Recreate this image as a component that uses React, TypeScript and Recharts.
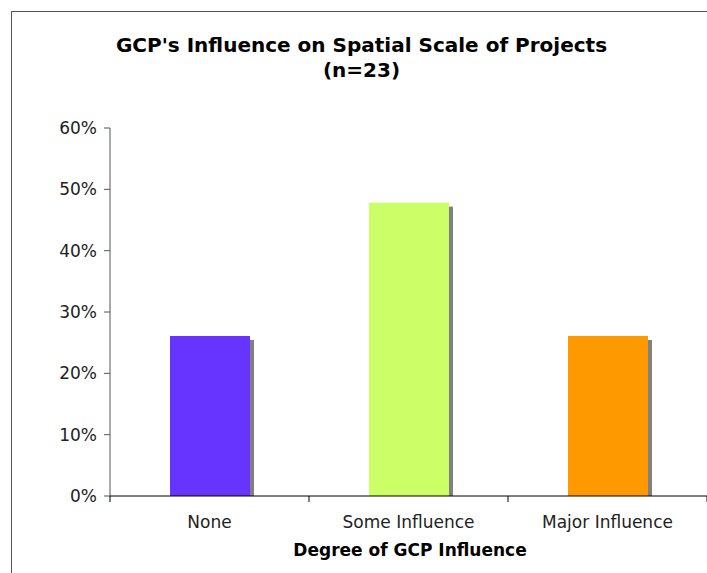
import React from 'react';
import { BarChart, Bar, XAxis, YAxis } from 'recharts';

const categories = ['None', 'Some Influence', 'Major Influence'];
const shares = [0.2609, 0.4783, 0.2609];
const barColors = ['#6633FF', '#CCFF66', '#FF9900'];
const yTicks = [0, 0.1, 0.2, 0.3, 0.4, 0.5, 0.6];

const data = categories.map((name, i) => ({ name, value: shares[i], color: barColors[i] }));

const FONT = '"DejaVu Sans", Verdana, sans-serif';

// bar with a small grey drop shadow to the lower right
function ShadowBar(props: any) {
  const { x, y, width, height, payload } = props;
  return (
    <g>
      <rect x={x + 4} y={y + 4} width={width} height={Math.max(height - 4, 0)} fill="#808080" />
      <rect x={x} y={y} width={width} height={height} fill={payload.color} />
    </g>
  );
}

// category label plus tick marks at the category boundaries
function CategoryTick(props: any) {
  const { x, y, payload, index, width } = props;
  const half = width / categories.length / 2;
  return (
    <g>
      {index === 0 && <line x1={x - half} x2={x - half} y1={y - 8} y2={y - 2} stroke="#000" />}
      <line x1={x + half} x2={x + half} y1={y - 8} y2={y - 2} stroke="#000" />
      <text x={x} y={y + 24} textAnchor="middle" fontSize={17} fontFamily={FONT} fill="#222">
        {payload.value}
      </text>
    </g>
  );
}

export default function App() {
  return (
    <div style={{ position: 'absolute', left: 0, top: 0, width: 707, height: 573, background: '#fff' }}>
      <div
        style={{
          position: 'absolute',
          left: 11,
          top: 11,
          width: 696,
          height: 562,
          borderTop: '1px solid #555',
          borderLeft: '1px solid #555',
        }}
      />
      <div
        style={{
          position: 'absolute',
          left: 14,
          top: 33,
          width: 695,
          textAlign: 'center',
          fontFamily: FONT,
          fontWeight: 'bold',
          fontSize: 20,
          lineHeight: '25px',
          color: '#000',
        }}
      >
        GCP's Influence on Spatial Scale of Projects
        <br />
        (n=23)
      </div>
      <BarChart
        width={707}
        height={573}
        data={data}
        margin={{ top: 128, right: 0, left: 50, bottom: 17 }}
        barSize={80}
      >
        <YAxis
          width={60}
          domain={[0, 0.6]}
          ticks={yTicks}
          tickFormatter={(v: number) => `${Math.round(v * 100)}%`}
          tick={{ fontSize: 17, fontFamily: FONT, fill: '#222' }}
          tickSize={6}
          tickMargin={7}
          stroke="#555"
          interval={0}
        />
        <XAxis
          dataKey="name"
          height={60}
          stroke="#000"
          tickLine={false}
          tick={<CategoryTick />}
          interval={0}
        />
        <Bar dataKey="value" shape={<ShadowBar />} isAnimationActive={false} />
      </BarChart>
      <div
        style={{
          position: 'absolute',
          left: 110,
          top: 539,
          width: 600,
          textAlign: 'center',
          fontFamily: FONT,
          fontWeight: 'bold',
          fontSize: 17,
          lineHeight: '22px',
          color: '#000',
        }}
      >
        Degree of GCP Influence
      </div>
    </div>
  );
}
